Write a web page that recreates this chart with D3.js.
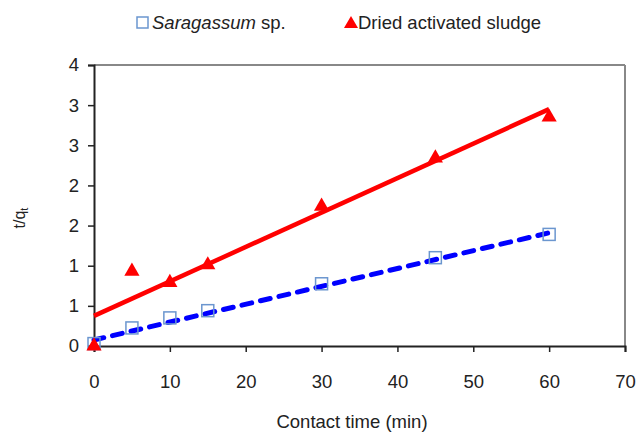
<!DOCTYPE html>
<html><head><meta charset="utf-8">
<script src="https://cdn.jsdelivr.net/npm/d3@7"></script>
<style>body{margin:0;background:#fff}svg{display:block}text{font-family:"Liberation Sans",Arial,sans-serif;fill:#222}</style>
</head><body>
<svg id="c" width="637" height="432"></svg>
<script>
const time = [0, 5, 10, 15, 30, 45, 60];
const saragassum = [0.03, 0.225, 0.35, 0.44, 0.775, 1.1, 1.39];
const sludge = [0.0, 0.93, 0.79, 1.01, 1.74, 2.34, 2.85];
const saragassumFit = [[0, 0.075], [60, 1.41]];
const sludgeFit = [[0, 0.375], [60, 2.95]];
const xTicks = [0, 10, 20, 30, 40, 50, 60, 70];
const yTicks = [0, 0.5, 1, 1.5, 2, 2.5, 3, 3.5];
const yTickLabels = ["0", "1", "1", "2", "2", "3", "3", "4"];

const svg = d3.select("#c");
const L = 94, R = 625, T = 65, B = 346;
const FS = 18.5;
const x = d3.scaleLinear().domain([0, 70]).range([L, R]);
const y = d3.scaleLinear().domain([0, 3.5]).range([B, T]);

// frame (top/right gray)
svg.append("line").attr("x1", L).attr("x2", R).attr("y1", T).attr("y2", T).attr("stroke", "#888").attr("stroke-width", 2);
svg.append("line").attr("x1", R).attr("x2", R).attr("y1", T).attr("y2", B).attr("stroke", "#888").attr("stroke-width", 2);

const xa = svg.append("g").attr("transform", `translate(0,${B})`)
  .call(d3.axisBottom(x).tickValues(xTicks).tickSize(6).tickPadding(23).tickFormat(d3.format("d")));
const ya = svg.append("g").attr("transform", `translate(${L},0)`)
  .call(d3.axisLeft(y).tickValues(yTicks).tickSize(6).tickPadding(9).tickFormat((d, i) => yTickLabels[i]));
[xa, ya].forEach(a => {
  a.select(".domain").attr("stroke", "#222").attr("stroke-width", 2);
  a.selectAll(".tick line").attr("stroke", "#222").attr("stroke-width", 1.5);
  a.selectAll("text").attr("font-size", FS).attr("fill", "#222").style("font-family", '"Liberation Sans",Arial,sans-serif');
});

// trendlines
const line = d3.line().x(d => x(d[0])).y(d => y(d[1]));
svg.append("path").attr("d", line(sludgeFit)).attr("stroke", "#ff0000").attr("stroke-width", 4.5).attr("fill", "none");
svg.append("path").attr("d", line(saragassumFit)).attr("stroke", "#0000ff").attr("stroke-width", 5)
  .attr("stroke-dasharray", "10,9").attr("stroke-linecap", "round").attr("fill", "none");

// markers
svg.selectAll(".sq").data(time).join("rect")
  .attr("x", (d) => x(d) - 6).attr("y", (d, i) => y(saragassum[i]) - 6)
  .attr("width", 12).attr("height", 12).attr("fill", "none").attr("stroke", "#6b96cf").attr("stroke-width", 1.5);
const tri = d3.symbol().type(d3.symbolTriangle).size(100);
svg.selectAll(".tr").data(time).join("path")
  .attr("d", tri).attr("transform", (d, i) => `translate(${x(d)},${y(sludge[i])})`).attr("fill", "#ff0000");

// axis titles
svg.append("text").attr("x", 352).attr("y", 428).attr("text-anchor", "middle").attr("font-size", FS).text("Contact time (min)");
const yt = svg.append("text").attr("transform", "translate(25,218) rotate(-90)").attr("text-anchor", "middle").attr("font-size", 16);
yt.append("tspan").text("t/q");
yt.append("tspan").attr("font-size", 11).attr("dy", 3).text("t");

// legend
svg.append("rect").attr("x", 137).attr("y", 17).attr("width", 11).attr("height", 11).attr("fill", "none").attr("stroke", "#6b96cf").attr("stroke-width", 1.5);
const lt = svg.append("text").attr("x", 152).attr("y", 29).attr("font-size", FS);
lt.append("tspan").attr("font-style", "italic").text("Saragassum");
lt.append("tspan").text(" sp.");
svg.append("path").attr("d", d3.symbol().type(d3.symbolTriangle).size(85)).attr("transform", "translate(351,24)").attr("fill", "#ff0000");
svg.append("text").attr("x", 358).attr("y", 29).attr("font-size", FS).text("Dried activated sludge");
</script>
</body></html>
